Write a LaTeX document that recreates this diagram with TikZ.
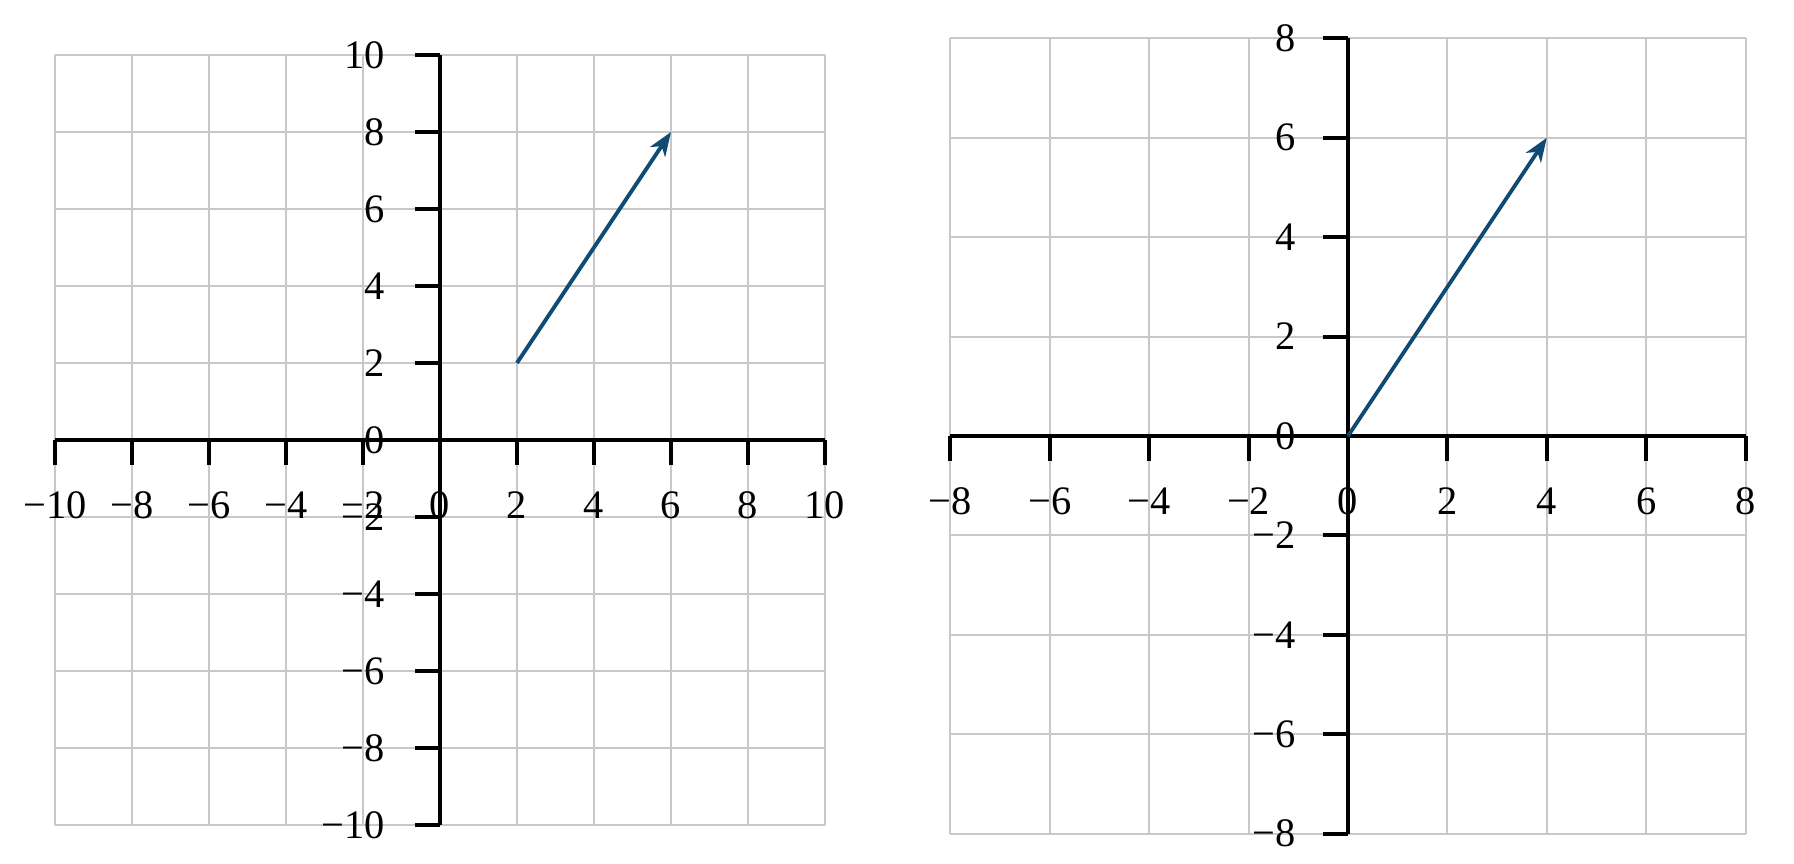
\documentclass[tikz,border=0pt]{standalone}
\usepackage{fontspec}
\setmainfont{Liberation Serif}
\usetikzlibrary{arrows.meta}
\definecolor{vecblue}{RGB}{16,75,115}
\definecolor{gridgray}{RGB}{200,200,200}
\newcommand{\ticklab}[1]{\ifnum#1<0 \char"2212\relax\number\numexpr-#1\relax\else#1\fi}
\tikzset{
  gridline/.style={gridgray, line width=0.6pt},
  axisline/.style={black, line width=1.15pt},
  vecarrow/.style={vecblue, line width=1.1pt, -{Stealth[length=0.24cm,width=0.18cm,inset=0.07cm]}},
  ticklabel/.style={inner sep=0pt, font=\fontsize{11.5}{13}\selectfont}
}

\begin{document}
\begin{tikzpicture}
  \useasboundingbox (0,0) rectangle (17.94,8.64);
  % left plot, -10..10
  \begin{scope}[shift={(4.40,4.24)},x=0.385cm,y=0.385cm]
    \foreach \g in {-10,-8,...,10} {
      \draw[gridline] (\g,-10) -- (\g,10);
      \draw[gridline] (-10,\g) -- (10,\g);
    }
    \draw[axisline] (-10,0) -- (10,0);
    \draw[axisline] (0,-10) -- (0,10);
    \foreach \t in {-10,-8,...,10} {
      \draw[axisline] (\t,0) -- ++(0,-0.25cm) node[ticklabel,below=0.25cm] {\ticklab{\t}};
      \draw[axisline] (0,\t) -- ++(-0.25cm,0) node[ticklabel,left=0.28cm] {\ticklab{\t}};
    }
    \draw[vecarrow] (2,2) -- (6,8);
  \end{scope}
  % right plot, -8..8
  \begin{scope}[shift={(13.48,4.28)},x=0.497cm,y=0.497cm]
    \foreach \g in {-8,-6,...,8} {
      \draw[gridline] (\g,-8) -- (\g,8);
      \draw[gridline] (-8,\g) -- (8,\g);
    }
    \draw[axisline] (-8,0) -- (8,0);
    \draw[axisline] (0,-8) -- (0,8);
    \foreach \t in {-8,-6,...,8} {
      \draw[axisline] (\t,0) -- ++(0,-0.25cm) node[ticklabel,below=0.25cm] {\ticklab{\t}};
      \draw[axisline] (0,\t) -- ++(-0.25cm,0) node[ticklabel,left=0.25cm] {\ticklab{\t}};
    }
    \draw[vecarrow] (0,0) -- (4,6);
  \end{scope}
\end{tikzpicture}
\end{document}
